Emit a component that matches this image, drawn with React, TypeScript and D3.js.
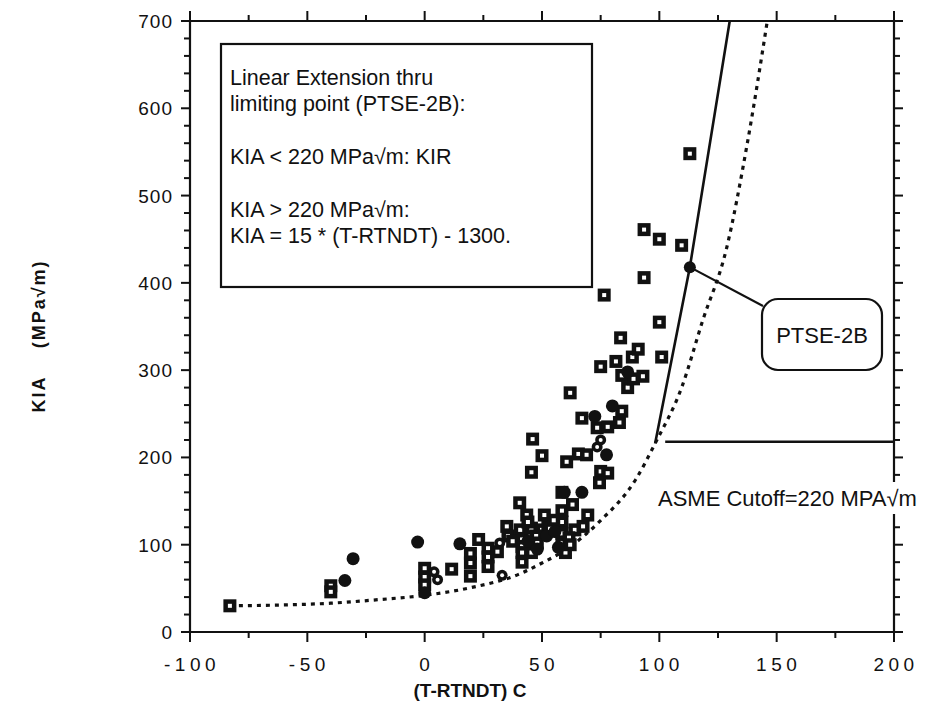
import React from "react";
import * as d3 from "d3";

// ---- data ----
const squarePoints: [number, number][] = [
  [-83, 30], [-40, 53], [-40, 46], [0, 73], [0, 63], [0, 54], [11.5, 72],
  [19.5, 90], [19.5, 79], [19.5, 64], [23, 106], [27, 96], [27, 86], [27, 75],
  [35, 121], [35.5, 110], [40.5, 148], [40.7, 117], [41.5, 106], [41.5, 98], [41.5, 91],
  [41.5, 80], [43.5, 134], [45.5, 119], [45.5, 98], [45.5, 91], [46, 221], [45.5, 183],
  [50, 202], [50, 117], [51, 134], [52.5, 121], [53.4, 119], [58.5, 160], [58.5, 139],
  [58.5, 126], [58.5, 113], [58.5, 102], [60, 91], [60.5, 195], [62, 274], [63, 146],
  [64, 117], [65.5, 204], [67.5, 121], [67, 245], [69, 203], [69.5, 134], [73.5, 234],
  [75, 184], [75, 304], [76.5, 386], [78, 235], [78, 182], [74.5, 171], [81.5, 310],
  [83, 240], [84, 253], [83.5, 337], [84, 294], [86.5, 280], [88.5, 315], [89, 290],
  [91, 324], [93, 293], [93.5, 461], [93.5, 406], [100, 450], [100, 355], [101, 315],
  [109.5, 443], [113, 548], [47.5, 110], [55, 128], [61.5, 108], [44, 126], [37.5, 104],
  [31, 92], [48, 102], [62, 100],
];
const filledPoints: [number, number][] = [
  [-34, 59], [-30.5, 84], [-3, 103], [0, 45], [15, 101], [44, 104], [52, 110], [57, 97],
  [59.5, 160], [67, 160], [72.5, 247], [77.5, 203], [80, 259], [86.5, 298],
  [55.5, 115], [48, 95],
];
const openPoints: [number, number][] = [
  [4, 69], [5.5, 60], [32, 102], [33, 65], [73.5, 212], [75, 220],
];
const kirCurve: [number, number][] = [
  [-83, 30], [-60, 31], [-40, 33], [-20, 37], [0, 42], [20, 51], [40, 66], [50, 79],
  [60, 94], [74.7, 127], [90, 175], [98.2, 216], [109.5, 280], [118.5, 357],
  [128.5, 438], [137.5, 560], [146, 700],
];
const extensionLine: [number, number][] = [[98.2, 216], [113, 418], [130, 700]];
const ptsePoint: [number, number] = [113, 418];
const cutoffValue = 218;
const cutoffStart = 102.5;
const xTickLabels = [-100, -50, 0, 50, 100, 150, 200];
const yTickLabels = [0, 100, 200, 300, 400, 500, 600, 700];
const legendLines = [
  "Linear Extension thru",
  "limiting point (PTSE-2B):",
  "",
  "KIA < 220 MPa\u221Am: KIR",
  "",
  "KIA > 220 MPa\u221Am:",
  "KIA = 15 * (T-RTNDT) - 1300.",
];

const W = 937, H = 714;
const L = 190, R = 894, T = 21, B = 632;
const FONT = "'Liberation Sans', Arial, Helvetica, sans-serif";

export default function App() {
  const x = d3.scaleLinear().domain([-100, 200]).range([L, R]);
  const y = d3.scaleLinear().domain([0, 700]).range([B, T]);
  const line = d3.line<[number, number]>().x(d => x(d[0])).y(d => y(d[1]));
  const curve = d3.line<[number, number]>().x(d => x(d[0])).y(d => y(d[1])).curve(d3.curveMonotoneX);

  const yMinor = d3.range(0, 701, 20);
  const xMinor = d3.range(-100, 201, 25);

  return (
    <svg width={W} height={H} style={{ position: "absolute", left: 0, top: 0, background: "#fff" }}
      fontFamily={FONT}>
      <rect width={W} height={H} fill="#fff" />
      {/* frame */}
      <g stroke="#111" strokeWidth={2.2} fill="none">
        <line x1={L} y1={T} x2={R} y2={T} />
        <line x1={L} y1={B} x2={R} y2={B} />
        <line x1={L} y1={T} x2={L} y2={B} />
        <line x1={R} y1={T} x2={R} y2={B} />
      </g>
      {/* ticks */}
      <g stroke="#111" strokeWidth={2}>
        {yMinor.map(v => {
          const major = v % 100 === 0;
          const len = major ? 9 : 6;
          return (
            <g key={"y" + v}>
              <line x1={L} x2={L - len} y1={y(v)} y2={y(v)} />
              <line x1={R} x2={R + len} y1={y(v)} y2={y(v)} />
            </g>
          );
        })}
        {xMinor.map(v => {
          const major = v % 50 === 0;
          const len = major ? 10 : 6;
          return (
            <g key={"x" + v}>
              <line x1={x(v)} x2={x(v)} y1={B} y2={B + len} />
              <line x1={x(v)} x2={x(v)} y1={T} y2={T - len} />
            </g>
          );
        })}
      </g>
      {/* tick labels */}
      <g fontSize={19} fill="#111">
        {yTickLabels.map(v => (
          <text key={"yl" + v} x={L - 17} y={y(v) + 7} textAnchor="end" letterSpacing={1}>{v}</text>
        ))}
        {xTickLabels.map(v => (
          <text key={"xl" + v} x={x(v) + 2} y={671} textAnchor="middle" letterSpacing={4.5}>
            {v < 0 ? "-" + Math.abs(v) : v}
          </text>
        ))}
      </g>
      {/* axis titles */}
      <text x={470} y={697} textAnchor="middle" fontWeight="bold" fontSize={19} fill="#111">(T-RTNDT) C</text>
      <text transform="translate(45,336) rotate(-90)" textAnchor="middle" fontWeight="bold" fontSize={18}
        fill="#111" letterSpacing={2} style={{ whiteSpace: "pre" }}>{"KIA    (MPa\u221Am)"}</text>

      {/* legend box */}
      <rect x={221} y={44} width={371} height={243} fill="#fff" stroke="#111" strokeWidth={2.2} />
      <g fontSize={21.5} fill="#111">
        {legendLines.map((s, i) => (
          <text key={"lg" + i} x={230} y={85 + i * 26.3}>{s}</text>
        ))}
      </g>

      {/* KIR dotted curve */}
      <path d={curve(kirCurve) || ""} fill="none" stroke="#111" strokeWidth={3.2} strokeDasharray="4,5" />
      {/* linear extension */}
      <path d={line(extensionLine) || ""} fill="none" stroke="#111" strokeWidth={2.6} />
      {/* ASME cutoff */}
      <line x1={x(cutoffStart)} x2={R} y1={y(cutoffValue)} y2={y(cutoffValue)} stroke="#111" strokeWidth={2.4} />

      {/* data */}
      <g>
        {squarePoints.map((d, i) => (
          <g key={"s" + i}>
            <rect x={x(d[0]) - 6.5} y={y(d[1]) - 6.5} width={13} height={13} fill="#111" />
            <rect x={x(d[0]) - 2} y={y(d[1]) - 2} width={4} height={4} fill="#fff" />
          </g>
        ))}
        {filledPoints.map((d, i) => (
          <circle key={"f" + i} cx={x(d[0])} cy={y(d[1])} r={6.5} fill="#111" />
        ))}
        {openPoints.map((d, i) => (
          <g key={"o" + i}>
            <circle cx={x(d[0])} cy={y(d[1])} r={5.5} fill="#111" />
            <circle cx={x(d[0])} cy={y(d[1])} r={2} fill="#fff" />
          </g>
        ))}
      </g>

      {/* PTSE-2B point and callout */}
      <line x1={x(ptsePoint[0])} y1={y(ptsePoint[1])} x2={763} y2={306} stroke="#111" strokeWidth={2.2} />
      <circle cx={x(ptsePoint[0])} cy={y(ptsePoint[1])} r={6} fill="#111" />
      <rect x={762} y={299} width={120} height={71} rx={16} fill="#fff" stroke="#111" strokeWidth={2.2} />
      <text x={822} y={343} textAnchor="middle" fontSize={22} fill="#111">PTSE-2B</text>

      {/* ASME cutoff label */}
      <rect x={656} y={482} width={281} height={32} fill="#fff" />
      <text x={658} y={506} fontSize={22} fill="#111">{"ASME Cutoff=220 MPA\u221Am"}</text>
    </svg>
  );
}
